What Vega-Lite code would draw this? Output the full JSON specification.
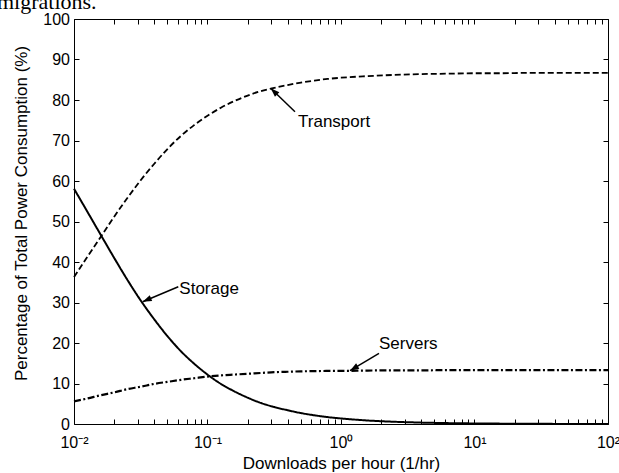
{
  "$schema": "https://vega.github.io/schema/vega-lite/v6.json",
  "width": 534,
  "height": 405,
  "autosize": "none",
  "padding": {"left": 74, "top": 19, "right": 11, "bottom": 49},
  "background": "white",
  "config": {
    "view": {"stroke": "black", "strokeWidth": 1},
    "font": "Liberation Sans",
    "axis": {
      "grid": false,
      "domain": false,
      "tickColor": "black",
      "tickSize": -5,
      "labelColor": "black",
      "titleColor": "black",
      "labelFontSize": 16,
      "titleFontSize": 17,
      "titleFontWeight": "normal",
      "labelFont": "Liberation Sans",
      "titleFont": "Liberation Sans"
    }
  },
  "title": {
    "text": "migrations.",
    "font": "Liberation Serif",
    "fontSize": 22,
    "fontWeight": "normal",
    "anchor": "start",
    "frame": "group",
    "baseline": "alphabetic",
    "offset": 0,
    "dx": -77,
    "dy": 20,
    "color": "black"
  },
  "datasets": {
    "curves": [
      {"x": 0.01, "Transport": 36.3, "Storage": 58.1, "Servers": 5.6},
      {"x": 0.0126, "Transport": 41.3, "Storage": 52.4, "Servers": 6.3},
      {"x": 0.0158, "Transport": 46.1, "Storage": 46.8, "Servers": 7.1},
      {"x": 0.02, "Transport": 51.2, "Storage": 41.0, "Servers": 7.8},
      {"x": 0.0251, "Transport": 55.8, "Storage": 35.6, "Servers": 8.6},
      {"x": 0.0316, "Transport": 60.2, "Storage": 30.5, "Servers": 9.2},
      {"x": 0.0398, "Transport": 64.2, "Storage": 25.9, "Servers": 9.9},
      {"x": 0.0501, "Transport": 67.9, "Storage": 21.7, "Servers": 10.4},
      {"x": 0.0631, "Transport": 71.1, "Storage": 18.0, "Servers": 10.9},
      {"x": 0.0794, "Transport": 73.8, "Storage": 14.9, "Servers": 11.3},
      {"x": 0.1, "Transport": 76.1, "Storage": 12.2, "Servers": 11.7},
      {"x": 0.126, "Transport": 78.1, "Storage": 9.9, "Servers": 12.0},
      {"x": 0.158, "Transport": 79.7, "Storage": 8.1, "Servers": 12.2},
      {"x": 0.2, "Transport": 81.1, "Storage": 6.5, "Servers": 12.4},
      {"x": 0.251, "Transport": 82.2, "Storage": 5.2, "Servers": 12.6},
      {"x": 0.316, "Transport": 83.0, "Storage": 4.2, "Servers": 12.8},
      {"x": 0.398, "Transport": 83.7, "Storage": 3.4, "Servers": 12.9},
      {"x": 0.501, "Transport": 84.3, "Storage": 2.7, "Servers": 13.0},
      {"x": 0.631, "Transport": 84.8, "Storage": 2.15, "Servers": 13.05},
      {"x": 0.794, "Transport": 85.2, "Storage": 1.7, "Servers": 13.1},
      {"x": 1, "Transport": 85.5, "Storage": 1.37, "Servers": 13.1},
      {"x": 1.58, "Transport": 85.9, "Storage": 0.87, "Servers": 13.2},
      {"x": 2.51, "Transport": 86.2, "Storage": 0.55, "Servers": 13.25},
      {"x": 3.98, "Transport": 86.4, "Storage": 0.35, "Servers": 13.25},
      {"x": 6.31, "Transport": 86.5, "Storage": 0.22, "Servers": 13.3},
      {"x": 10, "Transport": 86.6, "Storage": 0.14, "Servers": 13.3},
      {"x": 15.8, "Transport": 86.6, "Storage": 0.09, "Servers": 13.3},
      {"x": 25.1, "Transport": 86.7, "Storage": 0.05, "Servers": 13.3},
      {"x": 39.8, "Transport": 86.7, "Storage": 0.03, "Servers": 13.3},
      {"x": 63.1, "Transport": 86.7, "Storage": 0.02, "Servers": 13.3},
      {"x": 100, "Transport": 86.7, "Storage": 0.01, "Servers": 13.3}
    ],
    "notes": [
      {"label": "Transport", "x_tip": 0.2973, "y_tip": 82.9, "x_tail": 0.4521, "y_tail": 77.1, "x_text": 0.4764, "y_text": 73.3},
      {"label": "Storage", "x_tip": 0.0327, "y_tip": 30.2, "x_tail": 0.0604, "y_tail": 33.9, "x_text": 0.0615, "y_text": 32.1},
      {"label": "Servers", "x_tip": 1.168, "y_tip": 13.16, "x_tail": 1.926, "y_tail": 17.46, "x_text": 1.926, "y_text": 18.4}
    ]
  },
  "layer": [
    {
      "data": {"name": "curves"},
      "transform": [{"fold": ["Transport", "Storage", "Servers"], "as": ["series", "pct"]}],
      "mark": {"type": "line", "color": "black", "interpolate": "monotone"},
      "encoding": {
        "x": {
          "field": "x", "type": "quantitative",
          "scale": {"type": "log", "domain": [0.01, 100], "nice": false},
          "axis": {
            "orient": "bottom",
            "title": "Downloads per hour (1/hr)",
            "values": [0.01, 0.02, 0.03, 0.04, 0.05, 0.06, 0.07, 0.08, 0.09, 0.1, 0.2, 0.3, 0.4, 0.5, 0.6, 0.7, 0.8, 0.9, 1, 2, 3, 4, 5, 6, 7, 8, 9, 10, 20, 30, 40, 50, 60, 70, 80, 90, 100],
            "labelExpr": "datum.value == 0.01 ? '10⁻²' : datum.value == 0.1 ? '10⁻¹' : datum.value == 1 ? '10⁰' : datum.value == 10 ? '10¹' : datum.value == 100 ? '10²' : ''",
            "labelOverlap": false,
            "labelFlush": false,
            "labelBound": false,
            "labelPadding": 15,
            "titleBaseline": "middle",
            "titleY": 39
          }
        },
        "y": {
          "field": "pct", "type": "quantitative",
          "scale": {"domain": [0, 100], "nice": false},
          "axis": {
            "orient": "left",
            "title": "Percentage of Total Power Consumption (%)",
            "values": [0, 10, 20, 30, 40, 50, 60, 70, 80, 90, 100],
            "labelPadding": 9.5,
            "labelOverlap": false,
            "labelFlush": false,
            "labelBound": false,
            "titleX": -53,
            "titleY": 194,
            "titleBaseline": "middle"
          }
        },
        "detail": {"field": "series", "type": "nominal"},
        "strokeDash": {
          "field": "series", "type": "nominal",
          "scale": {"domain": ["Transport", "Storage", "Servers"], "range": [[6, 3], [1, 0], [7, 2.5, 2, 2.5]]},
          "legend": null
        },
        "strokeWidth": {
          "field": "series", "type": "nominal",
          "scale": {"domain": ["Transport", "Storage", "Servers"], "range": [1.8, 2.2, 1.5]},
          "legend": null
        }
      }
    },
    {
      "data": {"name": "notes"},
      "mark": {"type": "rule", "color": "black", "strokeWidth": 1.5},
      "encoding": {
        "x": {
          "field": "x_tail", "type": "quantitative",
          "scale": {"type": "log", "domain": [0.01, 100], "nice": false},
          "axis": {
            "orient": "top",
            "title": null,
            "labels": false,
            "values": [0.01, 0.02, 0.03, 0.04, 0.05, 0.06, 0.07, 0.08, 0.09, 0.1, 0.2, 0.3, 0.4, 0.5, 0.6, 0.7, 0.8, 0.9, 1, 2, 3, 4, 5, 6, 7, 8, 9, 10, 20, 30, 40, 50, 60, 70, 80, 90, 100]
          }
        },
        "x2": {"field": "x_tip"},
        "y": {
          "field": "y_tail", "type": "quantitative",
          "scale": {"domain": [0, 100], "nice": false},
          "axis": {
            "orient": "right",
            "title": null,
            "labels": false,
            "values": [0, 10, 20, 30, 40, 50, 60, 70, 80, 90, 100]
          }
        },
        "y2": {"field": "y_tip"}
      }
    },
    {
      "data": {"name": "notes"},
      "mark": {"type": "text", "align": "left", "baseline": "alphabetic", "fontSize": 17, "font": "Liberation Sans", "color": "black"},
      "encoding": {
        "x": {"field": "x_text", "type": "quantitative", "axis": null},
        "y": {"field": "y_text", "type": "quantitative", "axis": null},
        "text": {"field": "label"}
      }
    },
    {
      "data": {"name": "notes"},
      "transform": [{"filter": "datum.label == 'Transport'"}],
      "mark": {"type": "point", "shape": "M 0 0 L -1 -0.35 L -1 0.35 Z", "filled": true, "color": "black", "opacity": 1, "size": 324, "angle": 224},
      "encoding": {
        "x": {"field": "x_tip", "type": "quantitative", "axis": null},
        "y": {"field": "y_tip", "type": "quantitative", "axis": null}
      }
    },
    {
      "data": {"name": "notes"},
      "transform": [{"filter": "datum.label == 'Storage'"}],
      "mark": {"type": "point", "shape": "M 0 0 L -1 -0.35 L -1 0.35 Z", "filled": true, "color": "black", "opacity": 1, "size": 324, "angle": 157},
      "encoding": {
        "x": {"field": "x_tip", "type": "quantitative", "axis": null},
        "y": {"field": "y_tip", "type": "quantitative", "axis": null}
      }
    },
    {
      "data": {"name": "notes"},
      "transform": [{"filter": "datum.label == 'Servers'"}],
      "mark": {"type": "point", "shape": "M 0 0 L -1 -0.35 L -1 0.35 Z", "filled": true, "color": "black", "opacity": 1, "size": 324, "angle": 149},
      "encoding": {
        "x": {"field": "x_tip", "type": "quantitative", "axis": null},
        "y": {"field": "y_tip", "type": "quantitative", "axis": null}
      }
    }
  ],
  "resolve": {"axis": {"x": "independent", "y": "independent"}}
}
